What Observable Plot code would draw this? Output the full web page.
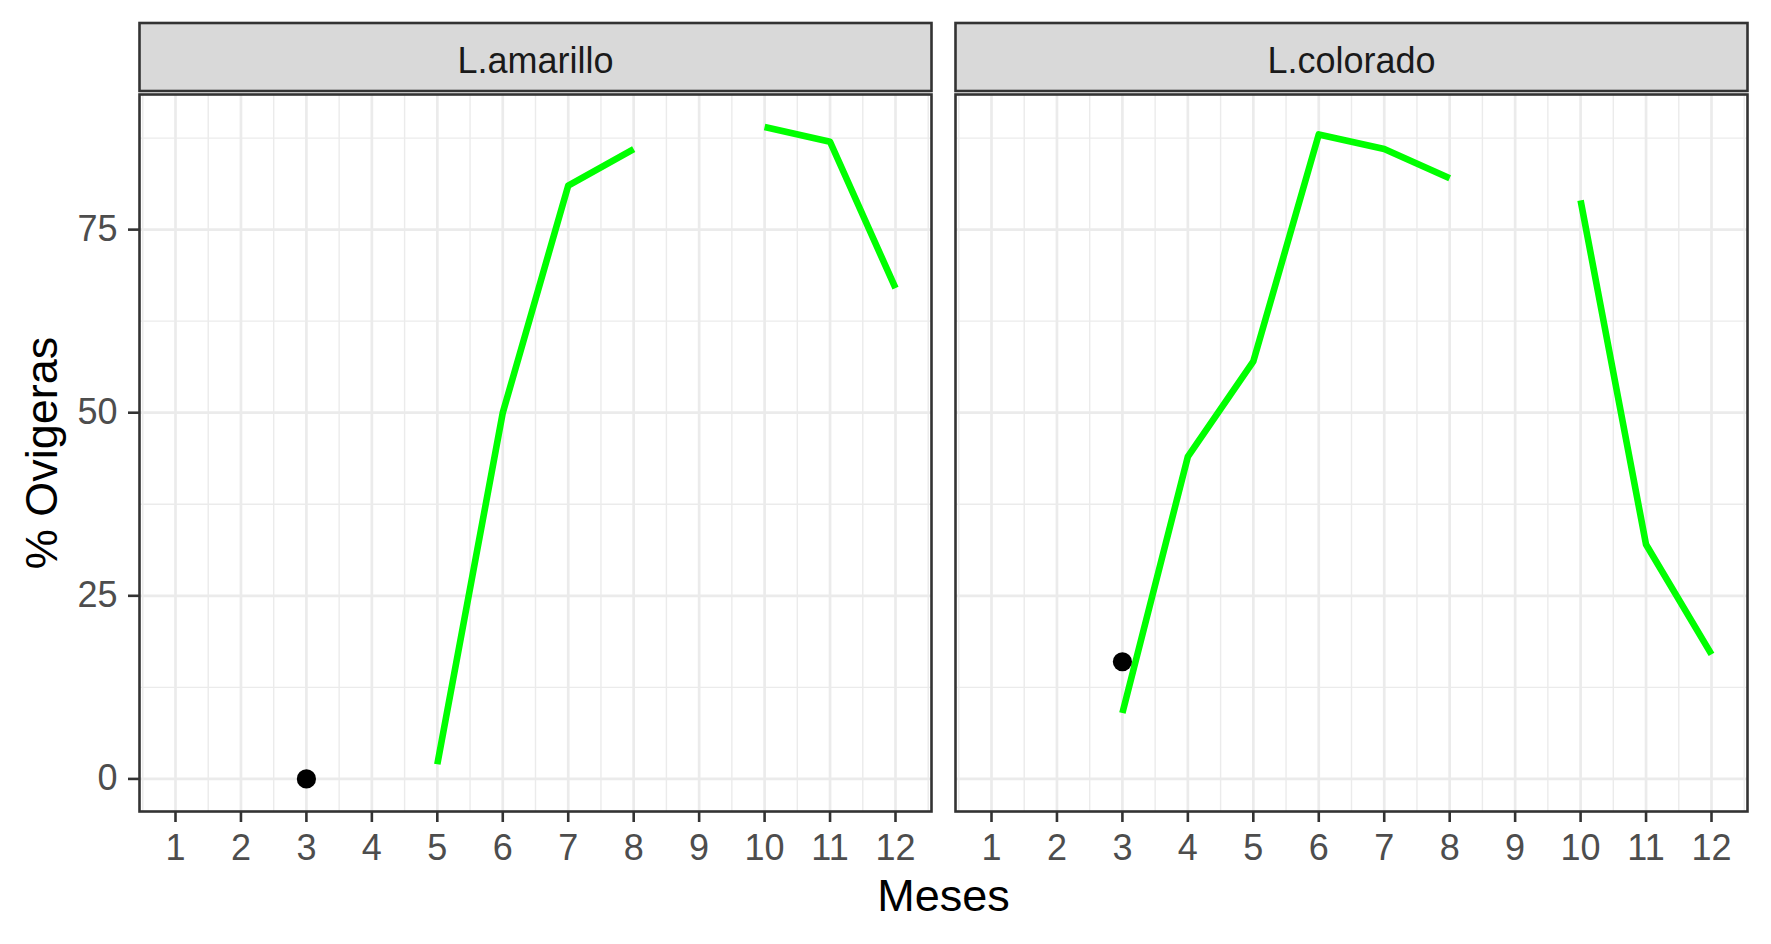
<!DOCTYPE html>
<html>
<head>
<meta charset="utf-8">
<script src="https://cdn.jsdelivr.net/npm/d3@7"></script>
<script src="https://cdn.jsdelivr.net/npm/@observablehq/plot@0.6"></script>
<style>
  html, body { margin: 0; padding: 0; background: #ffffff; }
  #chart svg { display: block; }
  #chart [aria-label$="axis tick"] path, #chart .tick line { stroke: #333333; stroke-width: 2.6px; }
</style>
</head>
<body>
<div id="chart"></div>
<script>
// ---- data ----
const paneles = ["L.amarillo", "L.colorado"];
const meses = [1, 2, 3, 4, 5, 6, 7, 8, 9, 10, 11, 12];
const amarillo = [null, null, null, null, 2, 50, 81, 86, null, 89, 87, 67];
const colorado = [null, null, 9, 44, 57, 88, 86, 82, null, 79, 32, 17];
const puntoPanel = ["L.amarillo", "L.colorado"];
const puntoMes = [3, 3];
const puntoValor = [0, 16];
const xTicks = [1, 2, 3, 4, 5, 6, 7, 8, 9, 10, 11, 12];
const xMinor = [0.5, 1.5, 2.5, 3.5, 4.5, 5.5, 6.5, 7.5, 8.5, 9.5, 10.5, 11.5, 12.5];
const yTicks = [0, 25, 50, 75];
const yMinor = [12.5, 37.5, 62.5, 87.5];
const xLabel = "Meses";
const yLabel = "% Ovigeras";

// ---- tables ----
const series = [amarillo, colorado];
const lineas = [];
paneles.forEach((p, i) => {
  meses.forEach((m, j) => {
    const v = series[i][j];
    lineas.push({panel: p, mes: m, pct: v == null ? NaN : v});
  });
});
const puntos = puntoPanel.map((p, i) => ({panel: p, mes: puntoMes[i], pct: puntoValor[i]}));

const FONT = "'Liberation Sans', Arial, Helvetica, sans-serif";
const yMax = 89, yMin = 0, pad = (yMax - yMin) * 0.05;

const chart = Plot.plot({
  width: 1771,
  height: 944,
  marginLeft: 139,
  marginRight: 24,
  marginTop: 94,
  marginBottom: 133,
  style: {fontFamily: FONT, fontSize: "36px", color: "#4D4D4D", background: "#ffffff", overflow: "visible"},
  fx: {domain: paneles, axis: null, label: null, paddingInner: 0.03, paddingOuter: 0},
  x: {domain: [0.45, 12.55], ticks: xTicks, tickSize: 11, tickPadding: 12, label: null, tickFormat: d => String(d)},
  y: {domain: [yMin - pad, yMax + pad], ticks: yTicks, tickSize: 11, tickPadding: 11, label: null, tickFormat: d => String(d)},
  marks: [
    Plot.ruleX(xMinor, {stroke: "#EBEBEB", strokeWidth: 1.4}),
    Plot.ruleY(yMinor, {stroke: "#EBEBEB", strokeWidth: 1.4}),
    Plot.ruleX(xTicks, {stroke: "#EBEBEB", strokeWidth: 2.7}),
    Plot.ruleY(yTicks, {stroke: "#EBEBEB", strokeWidth: 2.7}),
    Plot.line(lineas, {fx: "panel", x: "mes", y: "pct", stroke: "#00FF00", strokeWidth: 6.6, strokeLinecap: "butt", strokeLinejoin: "round"}),
    Plot.dot(puntos, {fx: "panel", x: "mes", y: "pct", r: 9.6, fill: "#000000", stroke: "none"}),
    Plot.frame({stroke: "#333333", strokeWidth: 2.6})
  ]
});

document.getElementById("chart").append(chart);

// ---- strips and axis titles ----
const svgEl = chart.tagName.toLowerCase() === "svg" ? chart : chart.querySelector("svg");
const sb = svgEl.getBoundingClientRect();
const frames = Array.from(svgEl.querySelectorAll('g[aria-label="frame"] rect'))
  .map(r => r.getBoundingClientRect())
  .map(b => ({x: b.left - sb.left, y: b.top - sb.top, w: b.width, h: b.height}))
  .sort((a, b) => a.x - b.x);

const svg = d3.select(svgEl);
const deco = svg.append("g").attr("aria-label", "strips");
frames.forEach((f, i) => {
  const top = f.y - 71.5;
  deco.append("rect")
    .attr("x", f.x).attr("y", top)
    .attr("width", f.w).attr("height", 68)
    .attr("fill", "#D9D9D9").attr("stroke", "#333333").attr("stroke-width", 2.6);
  deco.append("text")
    .attr("x", f.x + f.w / 2).attr("y", top + 49.5)
    .attr("text-anchor", "middle")
    .attr("font-family", FONT).attr("font-size", "36px")
    .attr("fill", "#1A1A1A")
    .text(paneles[i]);
});

if (frames.length) {
  const left = frames[0].x, right = frames[frames.length - 1].x + frames[frames.length - 1].w;
  const top = frames[0].y, bottom = frames[0].y + frames[0].h;
  svg.append("text")
    .attr("x", (left + right) / 2).attr("y", 911)
    .attr("text-anchor", "middle")
    .attr("font-family", FONT).attr("font-size", "45px").attr("fill", "#000000")
    .text(xLabel);
  svg.append("text")
    .attr("transform", `translate(57,${(top + bottom) / 2}) rotate(-90)`)
    .attr("text-anchor", "middle")
    .attr("font-family", FONT).attr("font-size", "45px").attr("fill", "#000000")
    .text(yLabel);
}
</script>
</body>
</html>
